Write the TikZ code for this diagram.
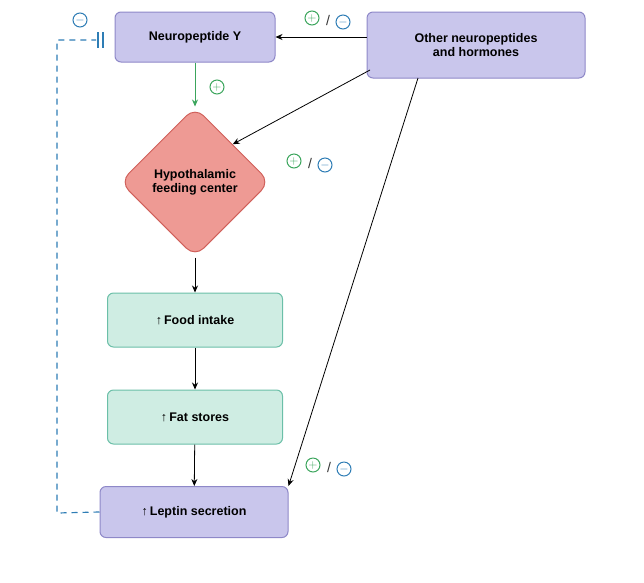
\documentclass[tikz,border=0pt]{standalone}
\usepackage{fontspec}
\setmainfont{Liberation Sans}
\usetikzlibrary{shapes.geometric,arrows.meta}
\definecolor{gr}{HTML}{3BA55C}
\definecolor{bl}{HTML}{2E7DB5}
\definecolor{lav}{HTML}{C9C6EC}
\definecolor{lavb}{HTML}{8E88C8}
\definecolor{tl}{HTML}{CFEDE3}
\definecolor{tlb}{HTML}{6BBFA8}
\definecolor{rd}{HTML}{EE9A94}
\definecolor{rdb}{HTML}{D0605A}
\tikzset{
 lbox/.style={draw=lavb,fill=lav,rounded corners=6pt,line width=1pt,font=\bfseries\fontsize{12.5}{14}\selectfont,align=center},
 tbox/.style={draw=tlb,fill=tl,rounded corners=6pt,line width=1pt,font=\bfseries\fontsize{12.5}{14}\selectfont,minimum width=175pt,minimum height=54pt},
 arr/.style={-{Stealth[length=7pt,width=6pt]},line width=0.8pt},
 cplus/.style={circle,draw=gr,text=gr,line width=1pt,inner sep=0pt,minimum size=14pt,font=\bfseries\fontsize{13}{13}\selectfont},
 cminus/.style={circle,draw=bl,text=bl,line width=1pt,inner sep=0pt,minimum size=14pt,font=\bfseries\fontsize{13}{13}\selectfont},
}
\newcommand{\upar}{↑\,}
\begin{document}
\begin{tikzpicture}[x=1pt,y=-1pt]
\useasboundingbox (0,0) rectangle (644,582);
\node[lbox,minimum width=160pt,minimum height=50pt] (npy) at (195,37) {Neuropeptide Y};
\node[lbox,minimum width=218pt,minimum height=66pt] (oth) at (476,45) {Other neuropeptides\\and hormones};
\node[diamond,draw=rdb,fill=rd,line width=1pt,rounded corners=12pt,minimum width=150pt,minimum height=150pt,inner sep=0pt,align=center,font=\bfseries\fontsize{12.5}{14}\selectfont] (hyp) at (195,182) {Hypothalamic\\feeding center};
\node[tbox] (food) at (195,320) {\upar Food intake};
\node[tbox] (fat) at (195,417) {\upar Fat stores};
\node[lbox,minimum width=188pt,minimum height=51pt] (lep) at (194,512) {\upar Leptin secretion};
\draw[arr,gr] (npy) -- (hyp);
\draw[arr] (hyp) -- (food);
\draw[arr] (food) -- (fat);
\draw[arr] (fat) -- (lep);
\draw[arr] (oth.west |- npy.east) -- (npy.east);
\draw[arr] (370,70) -- (hyp.north east);
\draw[arr] (418,78) -- (lep.north east);
\coordinate (dl) at (57,513);
\coordinate (dt) at (57,40);
\coordinate (de) at (96,40);
\draw[bl,line width=1.2pt,dash pattern=on 6pt off 5pt] (lep.west) -- (dl) -- (dt) -- (de);
\draw[bl,line width=1.2pt] (98,32) -- (98,48) (103,32) -- (103,48);
\node[cminus] (m0) at (80,20) {$-$};
\node[cplus] (p1) at (217,87) {$+$};
\node[cplus] (p2) at (312,18) {$+$};
\node at (328,20) {\color{black!80}\fontsize{14}{14}\selectfont/};
\node[cminus] (m2) at (343,22) {$-$};
\node[cplus] (p3) at (294,161) {$+$};
\node at (310,163) {\color{black!80}\fontsize{14}{14}\selectfont/};
\node[cminus] (m3) at (325,165) {$-$};
\node[cplus] (p4) at (313,465) {$+$};
\node at (329,467) {\color{black!80}\fontsize{14}{14}\selectfont/};
\node[cminus] (m4) at (344,469) {$-$};
\end{tikzpicture}
\end{document}
